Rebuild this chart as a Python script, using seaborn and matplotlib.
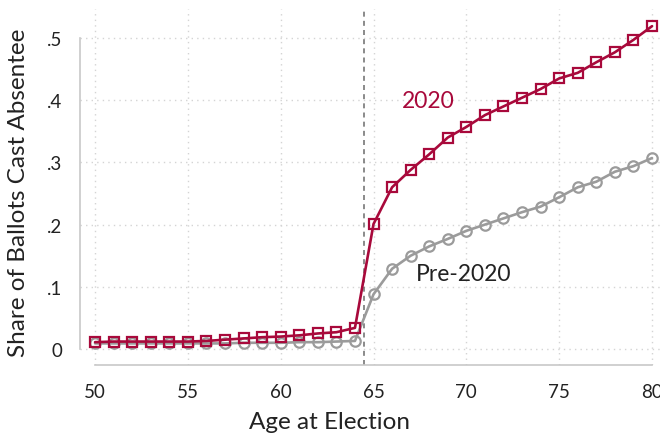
import pandas as pd
import matplotlib.pyplot as plt
import seaborn as sns

# data
ages = list(range(50, 81))
share_2020 = [0.011, 0.012, 0.012, 0.012, 0.012, 0.012, 0.013, 0.015, 0.017, 0.019,
              0.020, 0.022, 0.025, 0.027, 0.034, 0.201, 0.260, 0.288, 0.313, 0.340,
              0.357, 0.376, 0.390, 0.404, 0.418, 0.435, 0.444, 0.461, 0.477, 0.497, 0.519]
share_pre2020 = [0.009, 0.009, 0.009, 0.009, 0.009, 0.009, 0.009, 0.009, 0.010, 0.010,
                 0.010, 0.011, 0.011, 0.012, 0.013, 0.088, 0.129, 0.150, 0.165, 0.177,
                 0.190, 0.200, 0.210, 0.220, 0.229, 0.244, 0.260, 0.269, 0.285, 0.294, 0.307]
x_ticks = [50, 55, 60, 65, 70, 75, 80]
y_ticks = [0, 0.1, 0.2, 0.3, 0.4, 0.5]
y_tick_labels = ['0', '.1', '.2', '.3', '.4', '.5']

red = '#A8093B'
grey = '#9B9B9B'

df = pd.DataFrame({'age': ages, 'y2020': share_2020, 'pre': share_pre2020})

sns.set_style('white')
plt.rcParams['font.family'] = ['Lato', 'DejaVu Sans']

fig = plt.figure(figsize=(6.6, 4.35), dpi=100)
ax = fig.add_axes([80 / 660, 1 - 366 / 435, 580 / 660, 356 / 435])

# grid (dotted)
for xv in x_ticks:
    ax.axvline(xv, color='#d4d4d4', lw=1.0, ls=(0, (1, 3)), zorder=0)
for yv in y_ticks:
    ax.axhline(yv, color='#d4d4d4', lw=1.0, ls=(0, (1, 3)), zorder=0)

ax.axvline(64.5, color='#777777', lw=1.2, ls=(0, (3, 2.5)), zorder=1)

sns.lineplot(data=df, x='age', y='pre', ax=ax, color=grey, lw=1.9,
             marker='o', markersize=7.5, markerfacecolor='none',
             markeredgecolor=grey, markeredgewidth=1.6, zorder=2)
sns.lineplot(data=df, x='age', y='y2020', ax=ax, color=red, lw=1.9,
             marker='s', markersize=7.5, markerfacecolor='none',
             markeredgecolor=red, markeredgewidth=1.6, zorder=3)

ax.text(67.93, 0.399, '2020', color=red, fontsize=16.5, ha='center', va='center')
ax.text(69.87, 0.121, 'Pre-2020', color='#222222', fontsize=16.5, ha='center', va='center')

ax.set_xlim(49.19, 80.43)
ax.set_ylim(-0.0257, 0.5466)
ax.set_xticks(x_ticks)
ax.set_yticks(y_ticks)
ax.set_yticklabels(y_tick_labels)

for side in ['top', 'right']:
    ax.spines[side].set_visible(False)
ax.spines['left'].set_bounds(0, 0.5)
ax.spines['bottom'].set_bounds(50, 80)
for side in ['left', 'bottom']:
    ax.spines[side].set_color('#c8c8c8')
    ax.spines[side].set_linewidth(1.2)
ax.tick_params(axis='both', length=7, width=1.2, color='#c8c8c8',
               labelsize=13.5, labelcolor='#222222', pad=5.5)
ax.tick_params(axis='x', pad=6)

ax.set_xlabel('Age at Election', fontsize=17.5, color='#222222')
ax.set_ylabel('Share of Ballots Cast Absentee', fontsize=17.5, color='#222222')
ax.xaxis.set_label_coords(0.431, -0.128)
ax.yaxis.set_label_coords(-0.088, 0.487)

fig.savefig('out.png', dpi=100)
